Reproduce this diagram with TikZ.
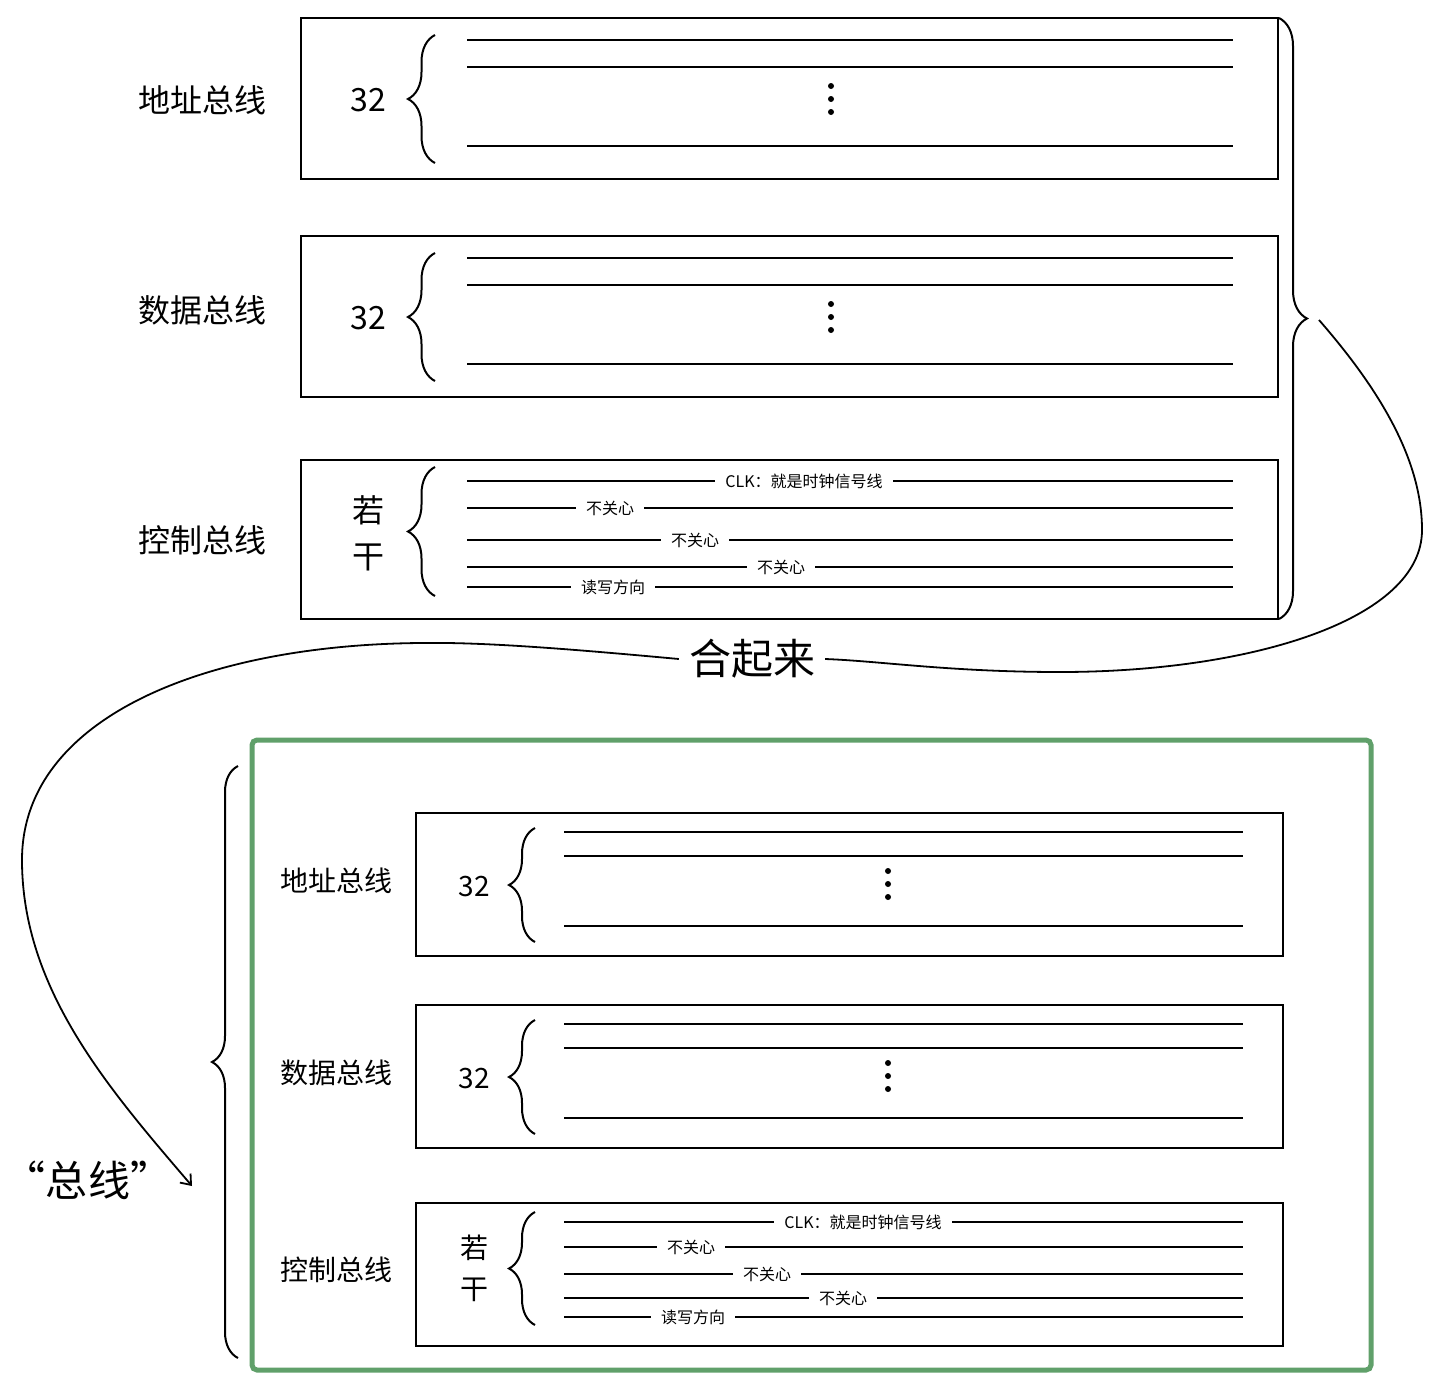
\documentclass[tikz,border=0pt]{standalone}
\usepackage{fontspec}
\setmainfont{Noto Sans CJK SC}
\usetikzlibrary{decorations.pathreplacing,arrows.meta}

\definecolor{busgreen}{RGB}{96,160,106}
\newcommand{\fsz}[1]{\fontsize{#1}{#1}\selectfont}

\tikzset{
  panel/.style={draw, line width=2.2pt},
  wire/.style={line width=2pt},
  tag/.style={fill=white, inner xsep=10pt, inner ysep=3pt, font=\fsz{16}},
  curly/.style={decorate, decoration={brace, amplitude=#1}, line width=2pt},
}

\begin{document}
\begin{tikzpicture}[x=1pt, y=-1pt]
  \useasboundingbox (0,0) rectangle (1437,1387);

  % Separate buses
  \foreach \t/\ly/\lab/\n in {18/100/地址总线/a, 236/310/数据总线/d} {
    \draw[panel] (301,\t) rectangle (1278,\t+161);
    \node[font=\fsz{32}] (bus\n) at (202,\ly) {\lab};
    \node[font=\fsz{32}] (w\n) at (368,\t+82) {32};
    \draw[curly=27] (435,\t+145) -- (435,\t+17);
    \foreach \d in {22,49,128}
      \draw[wire] (467,\t+\d) -- (1233,\t+\d);
    \foreach \d in {68,81,94}
      \fill (831,\t+\d) circle (3);
  }
  \draw[panel] (301,460) rectangle (1278,619);
  \node[font=\fsz{32}] (busc) at (202,540) {控制总线};
  \node[font=\fsz{32}] (ruo) at (368,510) {若};
  \node[font=\fsz{32}] (gan) at (368,557) {干};
  \draw[curly=27] (435,596) -- (435,467);
  \foreach \y/\x/\txt/\n in {481/804/{CLK：就是时钟信号线}/1, 508/610/不关心/2,
      540/695/不关心/3, 567/781/不关心/4, 587/613/读写方向/5} {
    \draw[wire] (467,\y) -- (1233,\y);
    \node[tag] (sig\n) at (\x,\y) {\txt};
  }

  % Brace and the curve
  \draw[curly=28] (1279,18) -- (1279,619);
  \coordinate (from) at (1319,320);
  \coordinate (to) at (192,1186);
  \node[font=\fsz{42}, inner sep=10pt] (join) at (752,659) {合起来};
  \draw[line width=1.8pt] (from) .. controls (1380,390) and (1422,460) .. (1422,530)
    .. controls (1422,620) and (1250,672) .. (1060,672)
    .. controls (950,672) and (880,661) .. (join.east);
  \draw[line width=1.8pt, -{Straight Barb[length=9pt, width=14pt]}] (join.west)
    .. controls (560,648) and (480,642) .. (420,643)
    .. controls (200,645) and (22,720) .. (22,860)
    .. controls (22,990) and (110,1090) .. (to);
  \node[font=\fsz{42}] (name) at (88,1180) {“总线”};

  % Combined bus
  \draw[busgreen, line width=5pt, rounded corners=5pt] (252,740) rectangle (1371,1370);
  \draw[curly=26] (238,1358) -- (238,766);
  \foreach \t/\lab/\n in {813/地址总线/a, 1005/数据总线/d} {
    \draw[panel] (416,\t) rectangle (1283,\t+143);
    \node[font=\fsz{28}] (sub\n) at (336,\t+68) {\lab};
    \node[font=\fsz{28}] (sw\n) at (474,\t+74) {32};
    \draw[curly=26] (535,\t+129) -- (535,\t+15);
    \foreach \d in {19,43,113}
      \draw[wire] (564,\t+\d) -- (1243,\t+\d);
    \foreach \d in {58,71,84}
      \fill (888,\t+\d) circle (3);
  }
  \draw[panel] (416,1203) rectangle (1283,1346);
  \node[font=\fsz{28}] (subc) at (336,1270) {控制总线};
  \node[font=\fsz{28}] (sruo) at (474,1248) {若};
  \node[font=\fsz{28}] (sgan) at (474,1290) {干};
  \draw[curly=26] (535,1325) -- (535,1212);
  \foreach \y/\x/\txt/\n in {1222/863/{CLK：就是时钟信号线}/1, 1247/691/不关心/2,
      1274/767/不关心/3, 1298/843/不关心/4, 1317/693/读写方向/5} {
    \draw[wire] (564,\y) -- (1243,\y);
    \node[tag] (ssig\n) at (\x,\y) {\txt};
  }
\end{tikzpicture}
\end{document}
